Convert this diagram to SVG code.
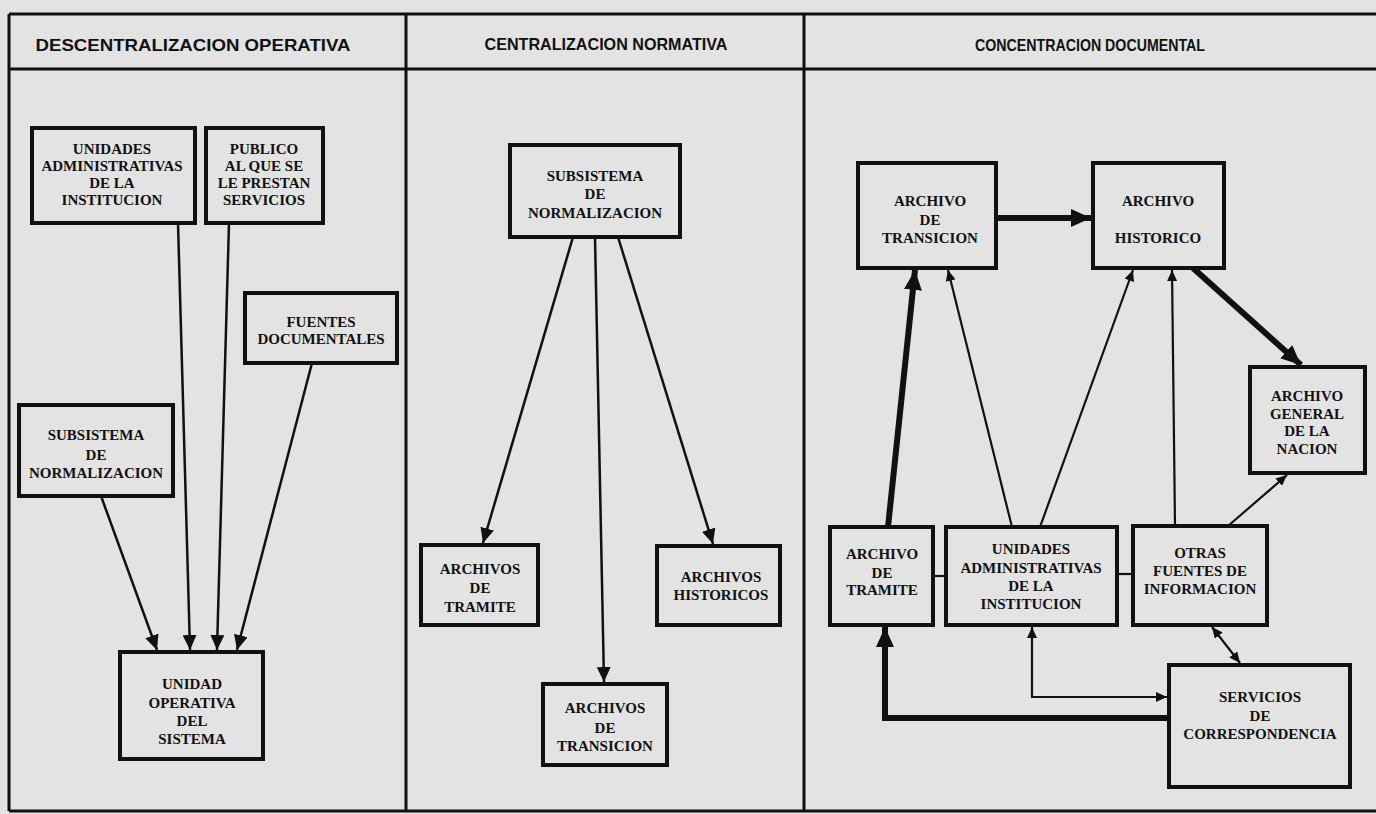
<svg xmlns="http://www.w3.org/2000/svg" width="1376" height="814" viewBox="0 0 1376 814">
<style>
.bg{fill:#e3e3e3}
.frame{stroke:#111;stroke-width:3;fill:none}
.hd{font-family:"Liberation Sans",Arial,sans-serif;font-weight:bold;font-size:16.5px;fill:#111;text-anchor:middle}
.box{fill:#e3e3e3;stroke:#111;stroke-width:4}
.t{font-family:"Liberation Serif","Times New Roman",serif;font-weight:bold;font-size:15px;fill:#111;text-anchor:middle}
.c{stroke:#111;stroke-width:2.5;fill:none}
.cs{stroke:#111;stroke-width:2.2;fill:none}
.ct{stroke:#111;stroke-width:6;fill:none}
</style>
<defs>
<marker id="a" markerUnits="userSpaceOnUse" markerWidth="16" markerHeight="14" refX="15" refY="7" orient="auto"><path d="M0,0 L15,7 L0,14 z" fill="#111"/></marker>
<marker id="as" markerUnits="userSpaceOnUse" markerWidth="12" markerHeight="10" refX="11" refY="5" orient="auto-start-reverse"><path d="M0,0 L11,5 L0,10 z" fill="#111"/></marker>
<marker id="at" markerUnits="userSpaceOnUse" markerWidth="22" markerHeight="18" refX="20" refY="9" orient="auto"><path d="M0,0 L20,9 L0,18 z" fill="#111"/></marker>
</defs>
<rect class="bg" x="0" y="0" width="1376" height="814"/>
<g id="frame">
<line class="frame" x1="9" y1="14" x2="1376" y2="14"/>
<line class="frame" x1="9" y1="69" x2="1376" y2="69"/>
<line class="frame" x1="9" y1="811" x2="1376" y2="811"/>
<line class="frame" x1="9" y1="14" x2="9" y2="811"/>
<line class="frame" x1="406" y1="14" x2="406" y2="811"/>
<line class="frame" x1="804" y1="14" x2="804" y2="811"/>
<text class="hd" x="193" y="51" textLength="315" lengthAdjust="spacingAndGlyphs">DESCENTRALIZACION  OPERATIVA</text>
<text class="hd" x="606" y="50" textLength="243" lengthAdjust="spacingAndGlyphs">CENTRALIZACION  NORMATIVA</text>
<text class="hd" x="1090" y="51" textLength="230" lengthAdjust="spacingAndGlyphs">CONCENTRACION  DOCUMENTAL</text>
</g>
<g id="connectors">
<line class="c" x1="178" y1="223" x2="190" y2="650" marker-end="url(#a)"/>
<line class="c" x1="229" y1="223" x2="217" y2="650" marker-end="url(#a)"/>
<line class="c" x1="312" y1="363" x2="237" y2="650" marker-end="url(#a)"/>
<line class="c" x1="101" y1="496" x2="157" y2="650" marker-end="url(#a)"/>
<line class="c" x1="573" y1="237" x2="483" y2="543" marker-end="url(#a)"/>
<line class="c" x1="595" y1="237" x2="604" y2="682" marker-end="url(#a)"/>
<line class="c" x1="618" y1="237" x2="713" y2="544" marker-end="url(#a)"/>
<line class="ct" x1="996" y1="218" x2="1091" y2="218" marker-end="url(#at)"/>
<line class="ct" x1="1193" y1="268" x2="1301" y2="365" marker-end="url(#at)"/>
<line class="ct" x1="888" y1="527" x2="915" y2="270" marker-end="url(#at)"/>
<line class="cs" x1="1012" y1="527" x2="948" y2="270" marker-end="url(#as)"/>
<line class="cs" x1="1040" y1="527" x2="1133" y2="270" marker-end="url(#as)"/>
<line class="cs" x1="1175" y1="526" x2="1172" y2="270" marker-end="url(#as)"/>
<line class="cs" x1="1228" y1="526" x2="1287" y2="475" marker-end="url(#as)"/>
<line class="cs" x1="1212" y1="627" x2="1240" y2="663" marker-start="url(#as)" marker-end="url(#as)"/>
<path class="ct" d="M1169,718 L885,718 L885,627" marker-end="url(#at)"/>
<path class="cs" d="M1032,627 L1032,697 L1167,697" marker-start="url(#as)" marker-end="url(#as)"/>
<line class="cs" x1="933" y1="576" x2="946" y2="576"/>
<line class="cs" x1="1117" y1="574" x2="1133" y2="574"/>
</g>
<g id="n-unidades-l"><rect class="box" x="32" y="128" width="163" height="95"/>
<text class="t" x="112" y="154">UNIDADES</text><text class="t" x="112" y="171">ADMINISTRATIVAS</text><text class="t" x="112" y="188">DE  LA</text><text class="t" x="112" y="205">INSTITUCION</text></g>
<g id="n-publico"><rect class="box" x="206" y="128" width="117" height="95"/>
<text class="t" x="264" y="154">PUBLICO</text><text class="t" x="264" y="171">AL QUE SE</text><text class="t" x="264" y="188">LE PRESTAN</text><text class="t" x="264" y="205">SERVICIOS</text></g>
<g id="n-fuentes"><rect class="box" x="245" y="293" width="152" height="70"/>
<text class="t" x="321" y="327">FUENTES</text><text class="t" x="321" y="344">DOCUMENTALES</text></g>
<g id="n-subsistema-l"><rect class="box" x="19" y="405" width="154" height="91"/>
<text class="t" x="96" y="440">SUBSISTEMA</text><text class="t" x="96" y="460">DE</text><text class="t" x="96" y="478">NORMALIZACION</text></g>
<g id="n-unidad-op"><rect class="box" x="120" y="652" width="143" height="107"/>
<text class="t" x="192" y="689">UNIDAD</text><text class="t" x="192" y="708">OPERATIVA</text><text class="t" x="192" y="726">DEL</text><text class="t" x="192" y="744">SISTEMA</text></g>
<g id="n-subsistema-m"><rect class="box" x="510" y="145" width="170" height="92"/>
<text class="t" x="595" y="181">SUBSISTEMA</text><text class="t" x="595" y="199">DE</text><text class="t" x="595" y="218">NORMALIZACION</text></g>
<g id="n-arch-tramite-m"><rect class="box" x="421" y="545" width="117" height="80"/>
<text class="t" x="480" y="574">ARCHIVOS</text><text class="t" x="480" y="593">DE</text><text class="t" x="480" y="612">TRAMITE</text></g>
<g id="n-arch-hist-m"><rect class="box" x="657" y="546" width="123" height="79"/>
<text class="t" x="721" y="582">ARCHIVOS</text><text class="t" x="721" y="600">HISTORICOS</text></g>
<g id="n-arch-trans-m"><rect class="box" x="543" y="684" width="124" height="81"/>
<text class="t" x="605" y="713">ARCHIVOS</text><text class="t" x="605" y="733">DE</text><text class="t" x="605" y="751">TRANSICION</text></g>
<g id="n-transicion"><rect class="box" x="858" y="163" width="138" height="105"/>
<text class="t" x="930" y="206">ARCHIVO</text><text class="t" x="930" y="225">DE</text><text class="t" x="930" y="243">TRANSICION</text></g>
<g id="n-historico"><rect class="box" x="1093" y="163" width="131" height="105"/>
<text class="t" x="1158" y="206">ARCHIVO</text><text class="t" x="1158" y="243">HISTORICO</text></g>
<g id="n-agn"><rect class="box" x="1250" y="367" width="115" height="106"/>
<text class="t" x="1307" y="401">ARCHIVO</text><text class="t" x="1307" y="419">GENERAL</text><text class="t" x="1307" y="436">DE LA</text><text class="t" x="1307" y="454">NACION</text></g>
<g id="n-tramite"><rect class="box" x="830" y="527" width="103" height="98"/>
<text class="t" x="882" y="559">ARCHIVO</text><text class="t" x="882" y="578">DE</text><text class="t" x="882" y="595">TRAMITE</text></g>
<g id="n-unidades-r"><rect class="box" x="946" y="527" width="171" height="98"/>
<text class="t" x="1031" y="554">UNIDADES</text><text class="t" x="1031" y="573">ADMINISTRATIVAS</text><text class="t" x="1031" y="591">DE  LA</text><text class="t" x="1031" y="609">INSTITUCION</text></g>
<g id="n-otras"><rect class="box" x="1133" y="526" width="134" height="99"/>
<text class="t" x="1200" y="558">OTRAS</text><text class="t" x="1200" y="576">FUENTES DE</text><text class="t" x="1200" y="594">INFORMACION</text></g>
<g id="n-servicios"><rect class="box" x="1169" y="665" width="181" height="122"/>
<text class="t" x="1260" y="702">SERVICIOS</text><text class="t" x="1260" y="721">DE</text><text class="t" x="1260" y="739">CORRESPONDENCIA</text></g>
</svg>
